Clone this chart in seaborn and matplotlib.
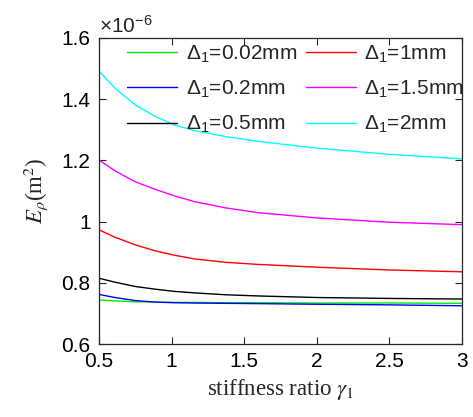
import numpy as np
import pandas as pd
import matplotlib
matplotlib.use("Agg")
import matplotlib.pyplot as plt
import seaborn as sns

# ---- data (E_rho in 1e-6 m^2) ----
gamma = [0.5, 0.61, 0.75, 0.89, 1.02, 1.16, 1.37, 1.6, 2.0, 2.5, 3.0]
e_002 = [0.744, 0.741, 0.738, 0.737, 0.736, 0.736, 0.735, 0.735, 0.734, 0.734, 0.733]
e_02 = [0.762, 0.752, 0.742, 0.737, 0.735, 0.734, 0.733, 0.732, 0.730, 0.728, 0.725]
e_05 = [0.815, 0.802, 0.788, 0.779, 0.772, 0.767, 0.761, 0.757, 0.752, 0.749, 0.747]
e_1 = [0.973, 0.949, 0.924, 0.904, 0.890, 0.878, 0.867, 0.860, 0.851, 0.842, 0.836]
e_15 = [1.201, 1.166, 1.130, 1.105, 1.084, 1.065, 1.045, 1.029, 1.012, 0.998, 0.990]
e_2 = [1.492, 1.436, 1.381, 1.343, 1.316, 1.297, 1.278, 1.262, 1.240, 1.220, 1.205]
labels = ["0.02mm", "0.2mm", "0.5mm", "1mm", "1.5mm", "2mm"]
colors = ["#00ee00", "#0000ff", "#000000", "#ff0000", "#ff00ff", "#00ffff"]
x_ticks = [0.5, 1, 1.5, 2, 2.5, 3]
x_ticklabels = ["0.5", "1", "1.5", "2", "2.5", "3"]
y_ticks = [0.6, 0.8, 1.0, 1.2, 1.4, 1.6]
y_ticklabels = ["0.6", "0.8", "1", "1.2", "1.4", "1.6"]

series = [e_002, e_02, e_05, e_1, e_15, e_2]
names = [r"$\mathit{\Delta}_1$=" + l for l in labels]
rows = []
for nm, vals in zip(names, series):
    for g, v in zip(gamma, vals):
        rows.append({"gamma": g, "E": v, "case": nm})
df = pd.DataFrame(rows)

sns.set_style("ticks")
plt.rcParams["font.family"] = ["Liberation Sans", "DejaVu Sans"]
plt.rcParams["mathtext.fontset"] = "custom"
plt.rcParams["mathtext.it"] = "Liberation Sans:italic"
plt.rcParams["mathtext.rm"] = "Liberation Sans"

fig = plt.figure(figsize=(4.73, 4.17), dpi=100)
ax = fig.add_axes([0.2093, 0.175, 0.7674, 0.7339])

sns.lineplot(data=df, x="gamma", y="E", hue="case", hue_order=names,
             palette=colors, linewidth=1.0, ax=ax, legend=True)

ax.set_xlim(0.5, 3)
ax.set_ylim(0.6, 1.6)
ax.set_xticks(x_ticks)
ax.set_xticklabels(x_ticklabels)
ax.set_yticks(y_ticks)
ax.set_yticklabels(y_ticklabels)
ax.tick_params(direction="in", length=5, width=0.8, top=True, right=True,
               labelsize=15, colors="#262626", labelcolor="black", pad=6)
for s in ax.spines.values():
    s.set_color("#262626")
    s.set_linewidth(0.9)

ax.set_xlabel(r"stiffness ratio $\gamma_1$", fontsize=16.5,
              family="Liberation Serif", math_fontfamily="stix", labelpad=4)
ax.set_ylabel(r"$E_\rho$(m$^2$)", fontsize=16.5,
              family="Liberation Serif", math_fontfamily="stix", labelpad=8)

ax.text(0.0, 1.005, r"$\times$10$^{\mathregular{-6}}$", transform=ax.transAxes,
        fontsize=15, ha="left", va="bottom")

leg = ax.legend(loc="upper left", bbox_to_anchor=(0.055, 1.01), ncol=2,
                frameon=False, fontsize=15, handlelength=2.4,
                handletextpad=0.4, columnspacing=0.45, labelspacing=0.68,
                borderaxespad=0)

fig.savefig("out.png", dpi=100)
